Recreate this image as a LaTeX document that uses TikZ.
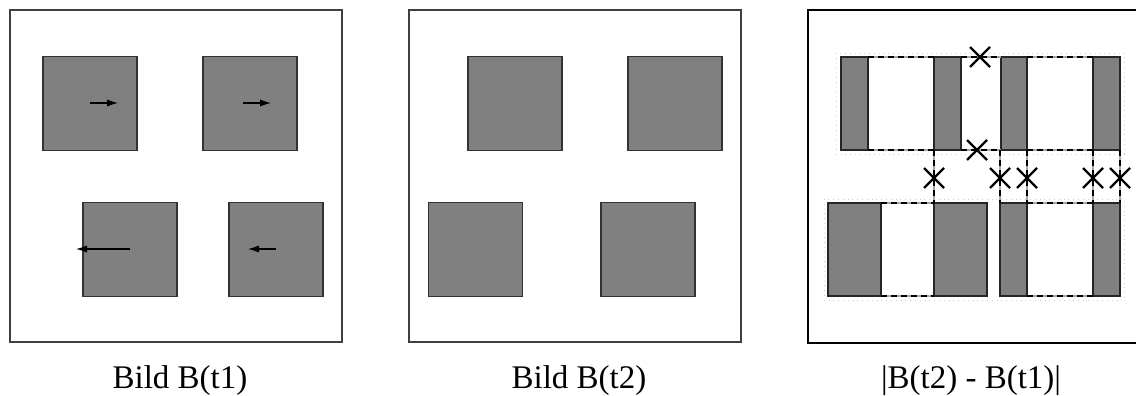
\documentclass[tikz,border=0pt]{standalone}
\usepackage{fontspec}
\setmainfont{Liberation Serif}
\usepackage{tikz}
\usetikzlibrary{arrows.meta, shapes.misc}
\definecolor{blobgray}{HTML}{808080}
\tikzset{
  blob/.style={draw=black!80,fill=blobgray,line width=0.6pt,minimum size=47pt,inner sep=0pt},
  frame/.style={draw=black!75,line width=0.6pt},
  diffframe/.style={draw=black,line width=0.8pt},
  motion/.style={-{Latex[length=5.5pt,width=3.6pt]},line width=0.6pt},
  strip/.style={draw=black!85,fill=blobgray,line width=0.6pt},
  gapedge/.style={draw=black,line width=0.6pt,dash pattern=on 3pt off 2pt,
    preaction={draw=black!35,solid,line width=0.6pt}},
  ghost/.style={draw=black!20,dotted,line width=0.4pt},
  xmark/.style={cross out,draw=black,line width=1.1pt,minimum size=10pt,inner sep=0pt,outer sep=0pt},
  caption/.style={anchor=base,font=\fontsize{16.5}{18}\selectfont},
}
\begin{document}
\begin{tikzpicture}[x=0.5pt,y=-0.5pt]
  \useasboundingbox (0,0) rectangle (1136,396);
  % ---- (1) Bild B(t1) ----
  \draw[frame] (10,10) rectangle (342,342);
  \node[blob] (A) at (90,103.5) {};
  \node[blob] (B) at (250,103.5) {};
  \node[blob] (C) at (130,249.5) {};
  \node[blob] (D) at (276,249.5) {};
  \coordinate (Astart) at (90,103);   \coordinate (Aend) at (118,103);
  \coordinate (Bstart) at (243,103);  \coordinate (Bend) at (271,103);
  \coordinate (Cstart) at (130,249);  \coordinate (Cend) at (76,249);
  \coordinate (Dstart) at (276,249);  \coordinate (Dend) at (248,249);
  \draw[motion] (Astart) -- (Aend);
  \draw[motion] (Bstart) -- (Bend);
  \draw[motion] (Cstart) -- (Cend);
  \draw[motion] (Dstart) -- (Dend);
  \node[caption] (cap1) at (180,388) {Bild B(t1)};
  % ---- (2) Bild B(t2) ----
  \draw[frame] (409,10) rectangle (741,342);
  \node[blob] (E) at (515,103.5) {};
  \node[blob] (F) at (675,103.5) {};
  \node[blob] (G) at (475.5,249.5) {};
  \node[blob] (H) at (648,249.5) {};
  \node[caption] (cap2) at (579,388) {Bild B(t2)};
  % ---- (3) difference image ----
  \draw[diffframe] (1136,10) -- (808,10) -- (808,343) -- (1136,343);
  \draw[ghost] (836,53) rectangle (1124,154);
  \draw[ghost] (824,199) rectangle (1124,300);
  % top row
  \draw[strip] (841,57) rectangle (868,150);
  \draw[strip] (934,57) rectangle (961,150);
  \draw[strip] (1001,57) rectangle (1027,150);
  \draw[strip] (1093,57) rectangle (1120,150);
  \foreach \ya in {57,150} {
    \draw[gapedge] (868,\ya) -- (934,\ya);
    \draw[gapedge] (961,\ya) -- (1001,\ya);
    \draw[gapedge] (1027,\ya) -- (1093,\ya);
  }
  % bottom row
  \draw[strip] (828,203) rectangle (881,296);
  \draw[strip] (934,203) rectangle (987,296);
  \draw[strip] (1000,203) rectangle (1027,296);
  \draw[strip] (1093,203) rectangle (1120,296);
  \foreach \ya in {203,296} {
    \draw[gapedge] (881,\ya) -- (934,\ya);
    \draw[gapedge] (1027,\ya) -- (1093,\ya);
  }
  % links between the rows
  \foreach \xa in {934,1000,1027,1093,1120}
    \draw[gapedge] (\xa,150) -- (\xa,203);
  \node[xmark] (x1) at (980,57) {};
  \node[xmark] (x2) at (977,150) {};
  \node[xmark] (x3) at (934,178) {};
  \node[xmark] (x4) at (1000,178) {};
  \node[xmark] (x5) at (1027,178) {};
  \node[xmark] (x6) at (1093,178) {};
  \node[xmark] (x7) at (1120,178) {};
  \node[caption] (cap3) at (971,388) {|B(t2) - B(t1)|};
\end{tikzpicture}
\end{document}
